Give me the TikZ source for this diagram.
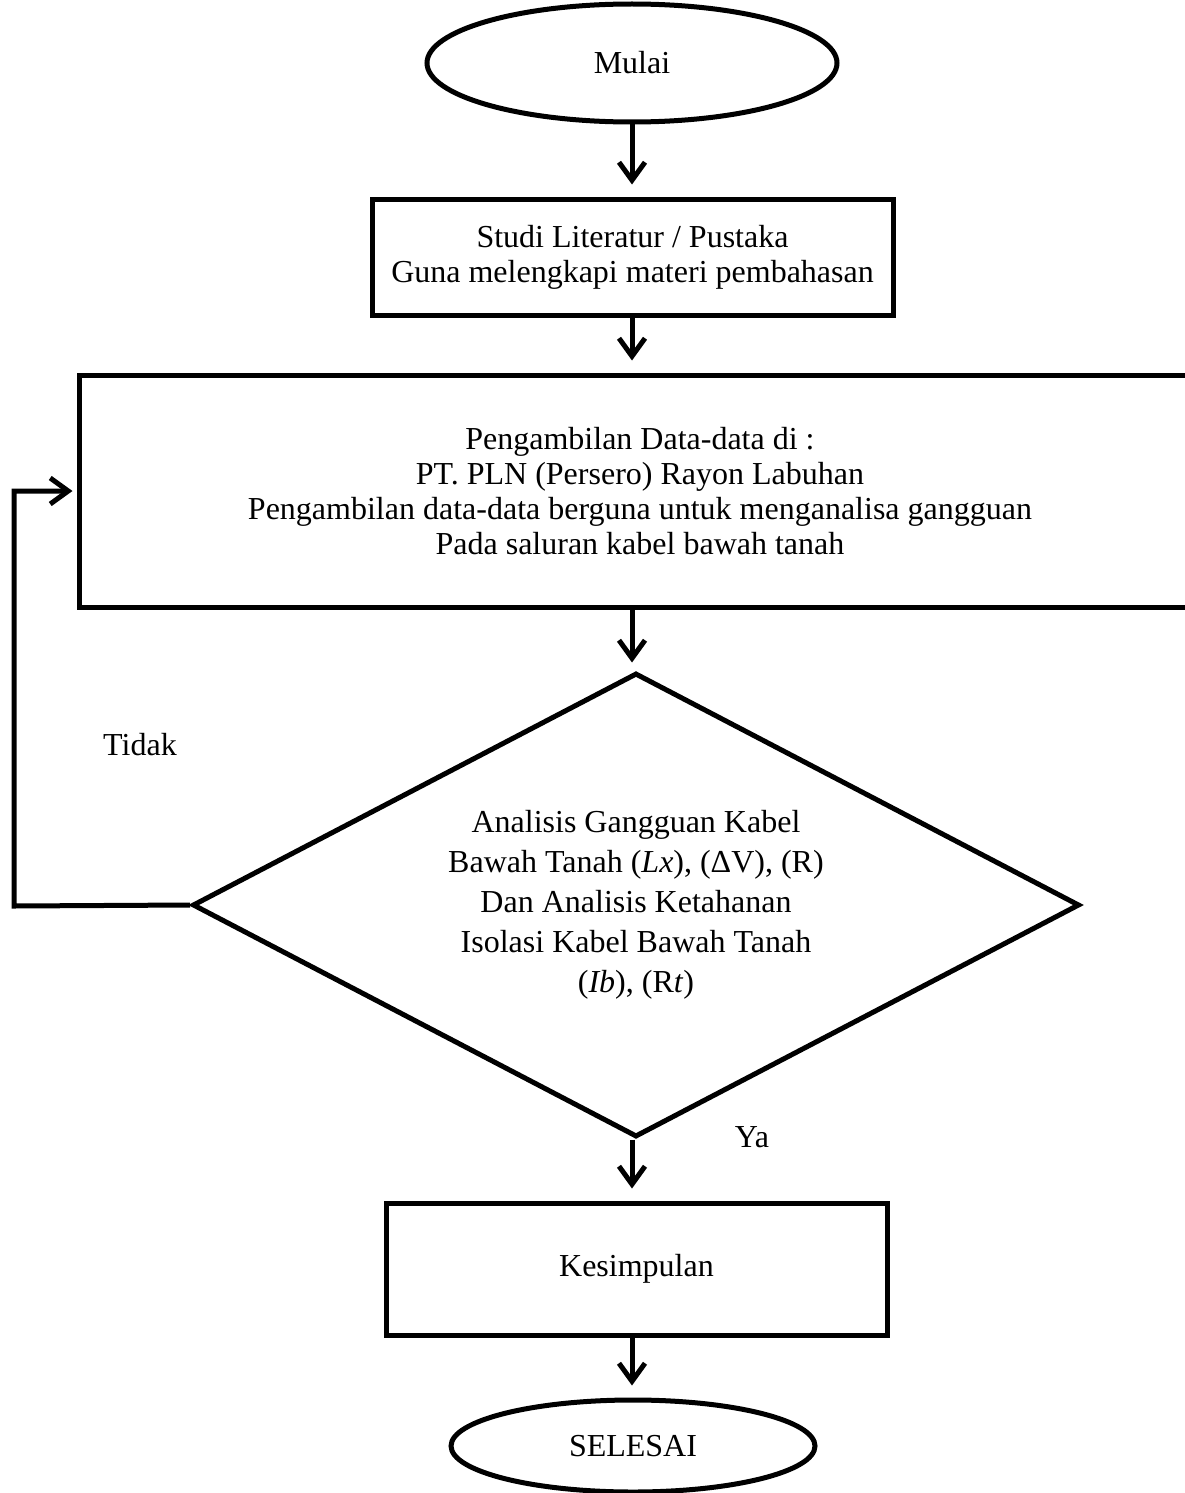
\documentclass[tikz,border=0pt]{standalone}
\usepackage{fontspec}
\setmainfont{Liberation Serif}
\usetikzlibrary{arrows.meta, positioning, shapes.geometric}

\begin{document}
\begin{tikzpicture}[x=1pt, y=-1pt, line width=5pt,
    terminal/.style={draw, ellipse, inner sep=0pt, font=\fontsize{32}{35}\selectfont},
    proses/.style={draw, rectangle, align=center, inner sep=0pt, font=\fontsize{32}{35}\selectfont},
    keputusan/.style={draw, diamond, shape aspect=1.9, align=center, inner sep=0pt, font=\fontsize{32}{40}\selectfont},
    teks/.style={font=\fontsize{32}{35}\selectfont},
    panah/.style={-{Straight Barb[length=18pt, width=26pt]}, shorten >=12pt}]
    \useasboundingbox (0,0) rectangle (1184,1493);

    % Start and first step
    \node[terminal, minimum width=410pt, minimum height=118pt] (mulai) at (632,63) {Mulai};
    \node[proses, minimum width=521pt, minimum height=116pt] (studi) at (632.5,257) {Studi Literatur / Pustaka\\Guna melengkapi materi pembahasan};

    % Data collection box (runs past the right edge)
    \node[proses, minimum width=1122pt, minimum height=232pt] (ambil) at (640,491) {Pengambilan Data-data di :\\PT. PLN (Persero) Rayon Labuhan\\Pengambilan data-data berguna untuk menganalisa gangguan\\Pada saluran kabel bawah tanah};

    % Decision
    \node[keputusan, minimum width=887pt, minimum height=464pt] (analisis) at (636,905) {Analisis Gangguan Kabel\\Bawah Tanah (\textit{Lx}), (ΔV), (R)\\Dan Analisis Ketahanan\\Isolasi Kabel Bawah Tanah\\(\textit{Ib}), (R\textit{t})};

    % End
    \node[proses, minimum width=501pt, minimum height=132pt] (simpulan) at (636.5,1269) {Kesimpulan};
    \node[terminal, minimum width=364pt, minimum height=92pt] (selesai) at (633,1446) {SELESAI};

    % Labels of the branches
    \node[teks] (tidak) at (140,745) {Tidak};
    \node[teks] (ya) at (752,1137) {Ya};
    \coordinate (balik) at (14,906);

    % Draw the flow arrows
    \draw[panah] (mulai.south) -- (mulai.south |- studi.north);
    \draw[panah] (632,0 |- studi.south) -- (632,0 |- ambil.north);
    \draw[panah, shorten >=8pt] (632,0 |- ambil.south) -- (632,0 |- analisis.north);
    \draw[panah] (632,0 |- analisis.south) -- (632,0 |- simpulan.north);
    \draw[panah] (632,0 |- simpulan.south) -- (632,0 |- selesai.north);
    \draw[panah, shorten >=4pt] (analisis.west) -- (balik) |- (ambil.west);
\end{tikzpicture}
\end{document}
